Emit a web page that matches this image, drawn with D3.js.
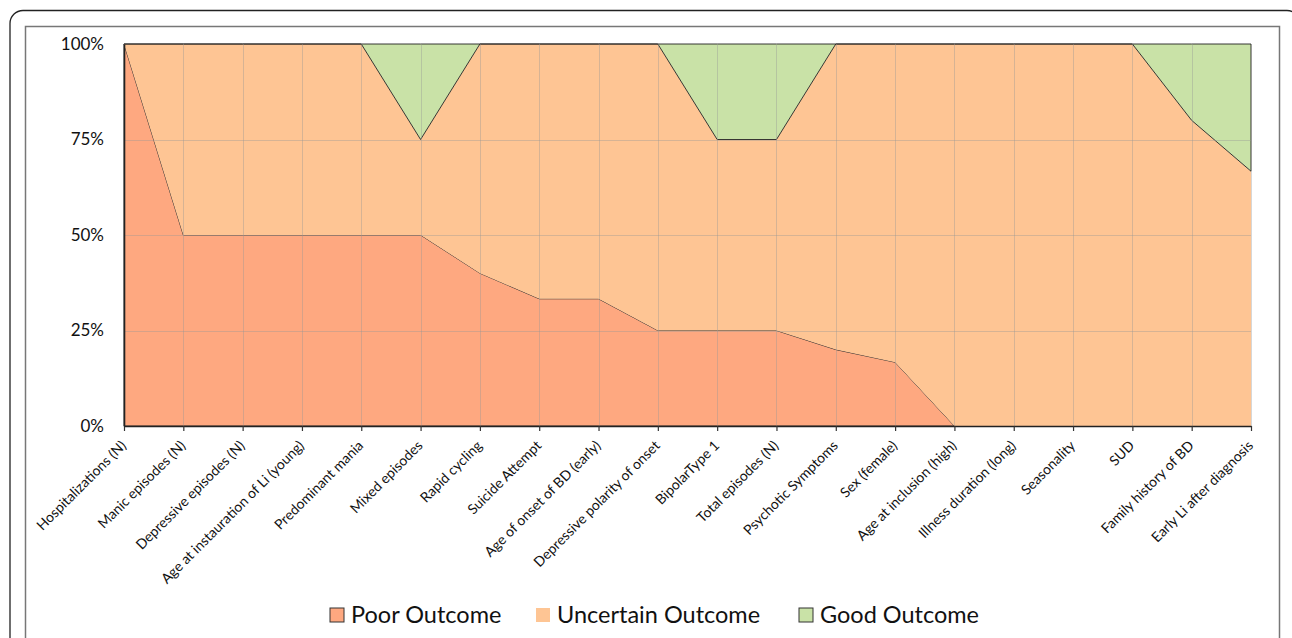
<!DOCTYPE html>
<html>
<head>
<meta charset="utf-8">
<script src="https://cdn.jsdelivr.net/npm/d3@7"></script>
<style>
  body { margin: 0; background: #fff; }
  svg text { font-family: Lato, "Open Sans", sans-serif; fill: #111; }
</style>
</head>
<body>
<div id="chart"></div>
<script>
// categories along the x axis
var categories = [
    'Hospitalizations (N)', 'Manic episodes (N)', 'Depressive episodes (N)',
    'Age at instauration of Li (young)', 'Predominant mania', 'Mixed episodes',
    'Rapid cycling', 'Suicide Attempt', 'Age of onset of BD (early)',
    'Depressive polarity of onset', 'BipolarType 1', 'Total episodes (N)',
    'Psychotic Symptoms', 'Sex (female)', 'Age at inclusion (high)',
    'Illness duration (long)', 'Seasonality', 'SUD', 'Family history of BD',
    'Early Li after diagnosis'
];

// percent of each outcome (stacked to 100)
var poor      = [100, 50, 50, 50, 50, 50, 40, 33.3, 33.3, 25, 25, 25, 20, 16.7, 0, 0, 0, 0, 0, 0];
var uncertain = [0, 50, 50, 50, 50, 25, 60, 66.7, 66.7, 75, 50, 50, 80, 83.3, 100, 100, 100, 100, 80, 66.7];
var good      = [0, 0, 0, 0, 0, 25, 0, 0, 0, 0, 25, 25, 0, 0, 0, 0, 0, 0, 20, 33.3];

var seriesNames = ['Poor Outcome', 'Uncertain Outcome', 'Good Outcome'];
var yTicks = [0, 25, 50, 75, 100];

var colors = ['#fea880', '#fec594', '#c9e2a7'];

var W = 1292, H = 638;
var margin = { left: 124, right: 41, top: 44, bottom: 212 };

var svg = d3.select('#chart').append('svg')
    .attr('width', W)
    .attr('height', H);

/* frames */
svg.append('rect')
    .attr('x', 10).attr('y', 10.5)
    .attr('width', 1290).attr('height', 700)
    .attr('rx', 13)
    .attr('fill', 'none')
    .attr('stroke', '#222')
    .attr('stroke-width', 1.3);

svg.append('rect')
    .attr('x', 25.5).attr('y', 26.5)
    .attr('width', 1254).attr('height', 700)
    .attr('fill', 'none')
    .attr('stroke', '#777')
    .attr('stroke-width', 1.5);

var x = d3.scalePoint()
    .domain(categories)
    .range([margin.left, W - margin.right]);

var y = d3.scaleLinear()
    .domain([0, 100])
    .range([H - margin.bottom, margin.top]);

var rows = categories.map(function(c, i) {
    return { name: c, poor: poor[i], uncertain: uncertain[i], good: good[i] };
});

var stack = d3.stack().keys(['poor', 'uncertain', 'good']);
var layers = stack(rows);

var area = d3.area()
    .x(function(d) { return x(d.data.name); })
    .y0(function(d) { return y(d[0]); })
    .y1(function(d) { return y(d[1]); });

svg.append('g')
    .selectAll('path')
    .data(layers)
    .enter().append('path')
    .attr('d', area)
    .attr('fill', function(d, i) { return colors[i]; })
    .attr('stroke', function(d, i) { return i == 1 ? 'none' : '#222'; })
    .attr('stroke-width', 0.9)
    .attr('stroke-linejoin', 'round');

/* gridlines over the areas */
var grid = svg.append('g')
    .attr('stroke', 'rgba(150,150,150,0.38)')
    .attr('stroke-width', 1);

grid.selectAll('.vgrid')
    .data(categories.slice(1))
    .enter().append('line')
    .attr('x1', function(d) { return Math.round(x(d)) + 0.5; })
    .attr('x2', function(d) { return Math.round(x(d)) + 0.5; })
    .attr('y1', y(100))
    .attr('y2', y(0));

grid.selectAll('.hgrid')
    .data([25, 50, 75])
    .enter().append('line')
    .attr('x1', x.range()[0])
    .attr('x2', x.range()[1])
    .attr('y1', function(d) { return Math.round(y(d)) + 0.5; })
    .attr('y2', function(d) { return Math.round(y(d)) + 0.5; });

/* axes */
var xAxis = svg.append('g')
    .attr('transform', 'translate(0,' + y(0) + ')')
    .call(d3.axisBottom(x).tickSize(5).tickSizeOuter(0));

xAxis.select('.domain').attr('stroke', '#222').attr('stroke-width', 1.6);
xAxis.selectAll('.tick line').attr('stroke', '#333').attr('stroke-width', 1.2);
xAxis.selectAll('.tick text')
    .attr('font-size', '14px')
    .attr('text-anchor', 'end')
    .attr('transform', 'translate(-8,10) rotate(-45)')
    .attr('x', 0)
    .attr('y', 10)
    .attr('dy', '0.35em');

var yAxis = svg.append('g')
    .attr('transform', 'translate(' + margin.left + ',0)')
    .call(d3.axisLeft(y).tickValues(yTicks).tickSize(0).tickPadding(20)
        .tickFormat(function(d) { return d + '%'; }));

yAxis.select('.domain').attr('stroke', '#222').attr('stroke-width', 1.6);
yAxis.selectAll('.tick text').attr('font-size', '17px');

/* legend */
var legendX = [330, 536, 799];
var legend = svg.append('g')
    .selectAll('g')
    .data(seriesNames)
    .enter().append('g')
    .attr('transform', function(d, i) { return 'translate(' + legendX[i] + ',608)'; });

legend.append('rect')
    .attr('width', 14)
    .attr('height', 14)
    .attr('fill', function(d, i) { return colors[i]; })
    .attr('stroke', function(d, i) { return i == 1 ? 'none' : '#333'; })
    .attr('stroke-width', 1);

legend.append('text')
    .attr('x', 21)
    .attr('y', 7)
    .attr('dy', '0.36em')
    .attr('font-size', '23.5px')
    .text(function(d) { return d; });
</script>
</body>
</html>
